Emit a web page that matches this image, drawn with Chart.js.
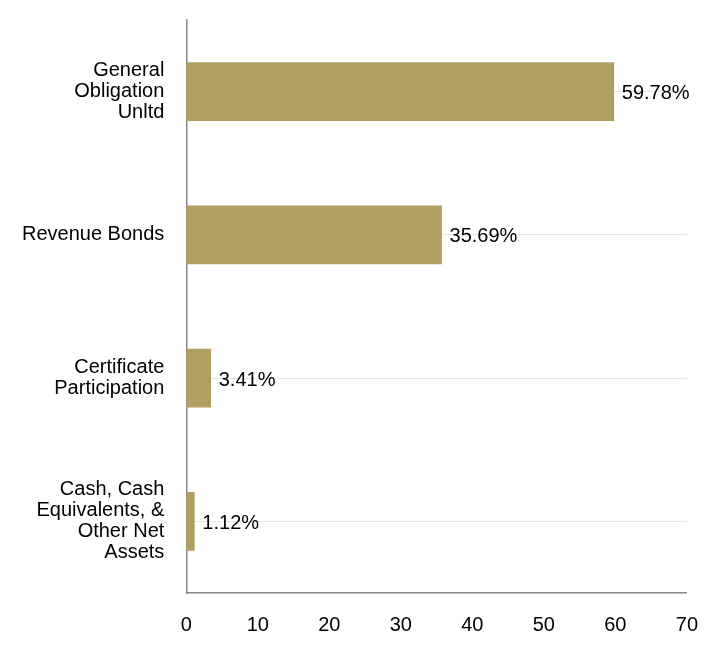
<!DOCTYPE html>
<html><head><script src="https://cdn.jsdelivr.net/npm/chart.js"></script>
<style>body{margin:0;background:#fff}#w{width:720px;height:672px}</style></head>
<body><div id="w"><canvas id="c"></canvas></div>
<script>
const categories=[["General","Obligation","Unltd"],"Revenue Bonds",["Certificate","Participation"],["Cash, Cash","Equivalents, &","Other Net","Assets"]];
const values=[59.78,35.69,3.41,1.12];
const xTicks=[0,10,20,30,40,50,60,70];
const font={family:"Liberation Sans, Arial",size:20,lineHeight:1.05};
const labelPlugin={id:'lbl',afterDatasetsDraw(ch){const ctx=ch.ctx;const m=ch.getDatasetMeta(0);ctx.save();ctx.font="20px Liberation Sans, Arial";ctx.fillStyle="#000";ctx.textBaseline="middle";m.data.forEach((b,i)=>{ctx.fillText(values[i].toFixed(2)+"%",b.x+8,b.y+2);});ctx.restore();}};
new Chart(document.getElementById('c'),{type:'bar',data:{labels:categories,datasets:[{data:values,backgroundColor:'#b09f63',barThickness:58}]},
options:{indexAxis:'y',responsive:true,maintainAspectRatio:false,animation:false,
layout:{padding:{top:20,right:33,bottom:14,left:0}},
plugins:{legend:{display:false},tooltip:{enabled:false}},
scales:{x:{min:0,max:70,ticks:{stepSize:10,color:'#000',font,padding:22},grid:{display:false,drawTicks:false},border:{display:true,color:'#888',width:1.5}},
y:{afterFit(s){s.paddingTop=0;s.paddingBottom=0;},ticks:{color:'#000',font,padding:22},grid:{offset:false,color:'#e6e6e6',drawTicks:false},border:{display:true,color:'#888',width:1.5}}}},
plugins:[labelPlugin]});
</script></body></html>
